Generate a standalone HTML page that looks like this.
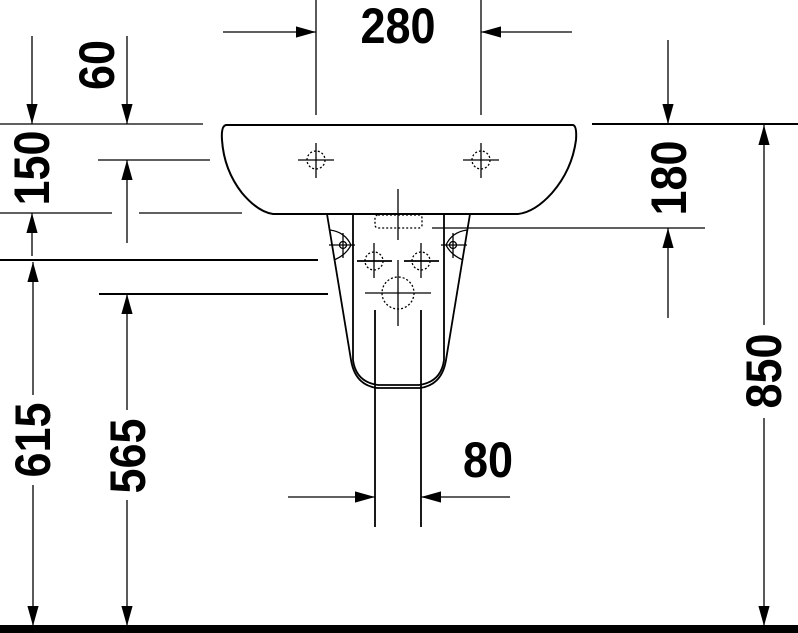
<!DOCTYPE html>
<html><head><style>html,body{margin:0;padding:0;background:#fff}svg{display:block}</style></head>
<body>
<svg width="798" height="633" viewBox="0 0 798 633" xmlns="http://www.w3.org/2000/svg">
<defs>
<marker id="a" viewBox="0 0 10 10" refX="10" refY="5" markerWidth="20" markerHeight="20" markerUnits="userSpaceOnUse" orient="auto"><path d="M0,2.2 L10,5 L0,7.8 z" fill="#000"/></marker>
</defs>
<g stroke="#000" fill="none" stroke-width="1.3">
<line x1="316" y1="0" x2="316" y2="115"/>
<line x1="481" y1="0" x2="481" y2="115"/>
<line x1="223" y1="32" x2="316" y2="32" marker-end="url(#a)"/>
<line x1="572" y1="32" x2="481" y2="32" marker-end="url(#a)"/>
<line x1="32" y1="36" x2="32" y2="124" marker-end="url(#a)"/>
<line x1="127" y1="36" x2="127" y2="124" marker-end="url(#a)"/>
<line x1="0" y1="124" x2="203" y2="124"/>
<line x1="98" y1="160" x2="210" y2="160"/>
<line x1="127" y1="243" x2="127" y2="160" marker-end="url(#a)"/>
<line x1="0" y1="213" x2="112" y2="213"/>
<line x1="139" y1="213" x2="242" y2="213"/>
<line x1="32" y1="256" x2="32" y2="213" marker-end="url(#a)"/>
<line x1="0" y1="260" x2="318" y2="260" stroke-width="2"/>
<line x1="99" y1="294" x2="328" y2="294" stroke-width="2"/>
<line x1="33" y1="395" x2="33" y2="262" marker-end="url(#a)"/>
<line x1="33" y1="485" x2="33" y2="626" marker-end="url(#a)"/>
<line x1="127" y1="410" x2="127" y2="294" marker-end="url(#a)"/>
<line x1="127" y1="500" x2="127" y2="626" marker-end="url(#a)"/>
<line x1="592" y1="124" x2="798" y2="124" stroke-width="2"/>
<line x1="668" y1="40" x2="668" y2="124" marker-end="url(#a)"/>
<line x1="432" y1="228" x2="705" y2="228"/>
<line x1="668" y1="318" x2="668" y2="228" marker-end="url(#a)"/>
<line x1="764" y1="325" x2="764" y2="125" marker-end="url(#a)"/>
<line x1="764" y1="418" x2="764" y2="626" marker-end="url(#a)"/>
<line x1="375" y1="310" x2="375" y2="527" stroke-width="1.8"/>
<line x1="421" y1="310" x2="421" y2="527" stroke-width="1.8"/>
<line x1="288" y1="497" x2="375" y2="497" marker-end="url(#a)"/>
<line x1="510" y1="497" x2="421" y2="497" marker-end="url(#a)"/>
<path d="M226,125 L573,125 Q577,126 576,140 Q572,170 552,193 Q535,212 518,214 L273,214 Q258,212 242,193 Q224,170 222,140 Q221,126 226,125 Z" stroke-width="2"/>
<g stroke-width="1.3">
<line x1="298" y1="160" x2="334" y2="160"/><line x1="316" y1="143" x2="316" y2="178"/>
<circle cx="316" cy="160" r="9" stroke-dasharray="2,2"/>
<line x1="463" y1="160" x2="499" y2="160"/><line x1="481" y1="143" x2="481" y2="178"/>
<circle cx="481" cy="160" r="9" stroke-dasharray="2,2"/>
</g>
<path d="M327,214 L351,360 Q355,385 377,388 L420,388 Q442,385 446,360 L470,214" stroke-width="1.8"/>
<path d="M353,214 L353,360 Q356,382 378,385 L419,385 Q441,382 444,360 L444,214" stroke-width="1.8"/>
<path d="M330,230 Q345,232 351,245 Q346,255 334,260" />
<path d="M467,230 Q452,232 446,245 Q451,255 463,260" />
<circle cx="343" cy="245" r="3.5"/><line x1="329" y1="245" x2="355" y2="245"/><line x1="343" y1="233" x2="343" y2="258"/>
<circle cx="453" cy="245" r="3.5"/><line x1="441" y1="245" x2="467" y2="245"/><line x1="453" y1="233" x2="453" y2="258"/>
<rect x="375" y="215" width="47" height="13" rx="3" stroke-dasharray="2,2"/>
<line x1="398" y1="189" x2="398" y2="240"/>
<line x1="398" y1="260" x2="398" y2="326"/>
<circle cx="374" cy="261" r="9" stroke-dasharray="2,2"/><line x1="357" y1="261" x2="392" y2="261" stroke-width="1.8"/><line x1="374" y1="243" x2="374" y2="278"/>
<circle cx="421" cy="261" r="9" stroke-dasharray="2,2"/><line x1="404" y1="261" x2="439" y2="261" stroke-width="1.8"/><line x1="421" y1="243" x2="421" y2="278"/>
<circle cx="398" cy="293" r="16" stroke-dasharray="2,2"/><line x1="365" y1="293" x2="431" y2="293"/>
</g>
<rect x="0" y="625" width="798" height="8" fill="#000"/>
<g font-family="Liberation Sans, sans-serif" font-weight="bold" font-size="50" fill="#000" text-anchor="middle">
<text transform="translate(398,43) scale(0.9,1)">280</text>
<text transform="translate(488,477) scale(0.9,1)">80</text>
<text transform="translate(114,65) rotate(-90) scale(0.9,1)">60</text>
<text transform="translate(49,168) rotate(-90) scale(0.9,1)">150</text>
<text transform="translate(50,440) rotate(-90) scale(0.9,1)">615</text>
<text transform="translate(145,456) rotate(-90) scale(0.9,1)">565</text>
<text transform="translate(686,178) rotate(-90) scale(0.9,1)">180</text>
<text transform="translate(781,371) rotate(-90) scale(0.9,1)">850</text>
</g>
</svg>
</body></html>
